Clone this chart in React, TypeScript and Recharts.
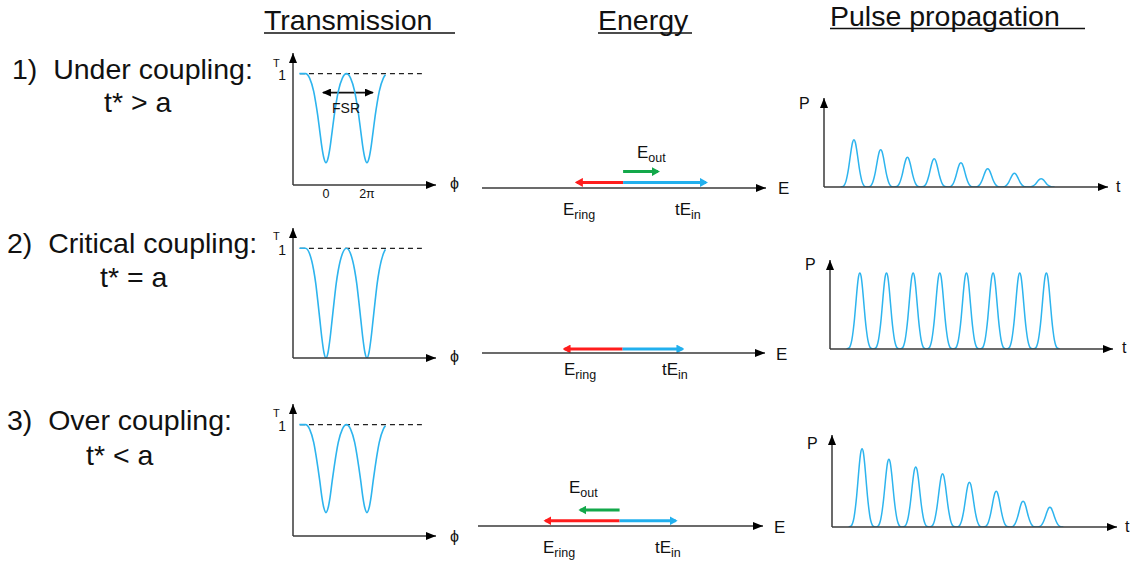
import React from 'react';
import { LineChart, Line, XAxis, YAxis, ReferenceLine } from 'recharts';

const FONT = '"Liberation Sans", Arial, Helvetica, sans-serif';
const CURVE = '#2db4ee';
const AXIS = '#3a3a3a';
const RED = '#ff1d1d';
const BLUE = '#22b0ee';
const GREEN = '#13a84a';

// ---------- Transmission (phase in units of pi, T normalised) ----------
const PHASE = [-1.3, -1.0, -0.8, -0.6, -0.5, -0.4, -0.3, -0.2, -0.1, 0, 0.1, 0.2, 0.3, 0.4, 0.5, 0.6, 0.8, 1.0, 1.2, 1.4, 1.5, 1.6, 1.7, 1.8, 1.9, 2.0, 2.1, 2.2, 2.3, 2.4, 2.5, 2.6, 2.8, 2.9];
const T_UNDER = [1, 1, 0.96, 0.84, 0.74, 0.62, 0.48, 0.34, 0.24, 0.2, 0.24, 0.34, 0.48, 0.62, 0.74, 0.84, 0.96, 1, 0.96, 0.84, 0.74, 0.62, 0.48, 0.34, 0.24, 0.2, 0.24, 0.34, 0.48, 0.62, 0.74, 0.84, 0.96, 0.99];
const T_CRITICAL = [1, 1, 0.95, 0.8, 0.68, 0.52, 0.35, 0.18, 0.05, 0, 0.05, 0.18, 0.35, 0.52, 0.68, 0.8, 0.95, 1, 0.95, 0.8, 0.68, 0.52, 0.35, 0.18, 0.05, 0, 0.05, 0.18, 0.35, 0.52, 0.68, 0.8, 0.95, 0.99];
const T_OVER = [1, 1, 0.96, 0.84, 0.74, 0.62, 0.49, 0.35, 0.25, 0.21, 0.25, 0.35, 0.49, 0.62, 0.74, 0.84, 0.96, 1, 0.96, 0.84, 0.74, 0.62, 0.49, 0.35, 0.25, 0.21, 0.25, 0.35, 0.49, 0.62, 0.74, 0.84, 0.96, 0.99];
const PHASE_TICKS = [0, 2];
const PHASE_TICK_LABELS = ['0', '2π'];
const T_TICKS = [1];
const DASH_SPAN = [-1.27, 4.68];
const FSR_SPAN = [-0.15, 2.29];
const FSR_LEVEL = 0.83;
const PHASE_DOMAIN = [-1.61, 5.37];
const T_DOMAIN = [0, 1.185];

// ---------- Energy (arbitrary field units) ----------
const E_RING = [-0.77, -0.97, -1.23];
const T_E_IN = [1.38, 1.0, 0.93];
const E_OUT: (number | null)[] = [0.58, null, -0.65];
const E_DOMAIN = [-2.35, 2.38];

// ---------- Pulse propagation ----------
const PULSE_CENTERS = [1, 2, 3, 4, 5, 6, 7, 8];
const PULSE_OFFSETS = [-0.5, -0.4, -0.35, -0.3, -0.25, -0.2, -0.15, -0.1, -0.05, 0, 0.05, 0.1, 0.15, 0.2, 0.25, 0.3, 0.35, 0.4];
const PULSE_PROFILE = [0, 0.015, 0.05, 0.12, 0.24, 0.4, 0.6, 0.8, 0.95, 1, 0.95, 0.8, 0.6, 0.4, 0.24, 0.12, 0.05, 0.015];
const PEAKS_UNDER = [0.62, 0.49, 0.39, 0.37, 0.32, 0.24, 0.18, 0.11];
const PEAKS_CRITICAL = [1, 1, 1, 1, 1, 1, 1, 1];
const PEAKS_OVER = [1.03, 0.89, 0.79, 0.7, 0.59, 0.47, 0.34, 0.26];
const T_TIME_DOMAIN = [-0.12, 10.5];

type Box = { left: number; top: number; width: number; height: number };
type Plot = { x0: number; y0: number; x1: number; y1: number };

// axes reserve 1px (Recharts skips axes of zero size)
function marginFor(box: Box, p: Plot, hasY = true) {
  return {
    left: p.x0 - box.left - (hasY ? 1 : 0),
    top: p.y0 - box.top,
    right: box.left + box.width - p.x1,
    bottom: box.top + box.height - p.y1 - 1,
  };
}

function buildTrans(values: number[]) {
  return PHASE.map((x, i) => ({ x, y: values[i] }));
}

function buildPulses(peaks: number[]) {
  const out: { t: number; p: number }[] = [];
  PULSE_CENTERS.forEach((c, k) => {
    PULSE_OFFSETS.forEach((o, j) => {
      out.push({ t: +(c + o).toFixed(3), p: peaks[k] * PULSE_PROFILE[j] });
    });
  });
  out.push({ t: PULSE_CENTERS[PULSE_CENTERS.length - 1] + 0.5, p: 0 });
  return out;
}

const axisLineX = { stroke: AXIS, strokeWidth: 1.5, markerEnd: 'url(#ah-axis)' };
const axisLineY = { stroke: AXIS, strokeWidth: 1.5, markerStart: 'url(#ah-axis)' };

function PhaseTick(props: any) {
  const { x, y, payload } = props;
  const i = PHASE_TICKS.indexOf(payload.value);
  return (
    <text x={x} y={y} dy={9} textAnchor="middle" fontSize={12.5} fill="#111" fontFamily={FONT}>
      {i >= 0 ? PHASE_TICK_LABELS[i] : ''}
    </text>
  );
}

function TTick(props: any) {
  const { x, y, payload } = props;
  return (
    <text x={x + 1} y={y} dy={6.5} textAnchor="end" fontSize={14} fill="#111" fontFamily={FONT}>
      {String(payload.value)}
    </text>
  );
}

function TransPanel({ box, plot, values, showTicks, showFSR }: { box: Box; plot: Plot; values: number[]; showTicks?: boolean; showFSR?: boolean }) {
  return (
    <div style={{ position: 'absolute', left: box.left, top: box.top, width: box.width, height: box.height }}>
      <LineChart width={box.width} height={box.height} data={buildTrans(values)} margin={marginFor(box, plot)}>
        <XAxis
          type="number"
          dataKey="x"
          domain={PHASE_DOMAIN}
          allowDataOverflow
          height={1}
          ticks={showTicks ? PHASE_TICKS : []}
          interval={0}
          tick={showTicks ? <PhaseTick /> : false}
          tickLine={false}
          tickSize={4}
          tickMargin={0}
          axisLine={axisLineX}
        />
        <YAxis
          type="number"
          domain={T_DOMAIN}
          allowDataOverflow
          width={1}
          ticks={T_TICKS}
          interval={0}
          tick={<TTick />}
          tickLine={false}
          axisLine={axisLineY}
        />
        <ReferenceLine
          segment={[{ x: DASH_SPAN[0], y: 1 }, { x: DASH_SPAN[1], y: 1 }]}
          stroke="#222"
          strokeWidth={1.2}
          strokeDasharray="5 4"
          ifOverflow="visible"
        />
        {showFSR && (
          <ReferenceLine
            segment={[{ x: FSR_SPAN[0], y: FSR_LEVEL }, { x: FSR_SPAN[1], y: FSR_LEVEL }]}
            stroke="#111"
            strokeWidth={1.8}
            markerStart="url(#ah-fsr)"
            markerEnd="url(#ah-fsr)"
            ifOverflow="visible"
          />
        )}
        <Line type="monotone" dataKey="y" stroke={CURVE} strokeWidth={1.6} dot={false} activeDot={false} isAnimationActive={false} />
      </LineChart>
    </div>
  );
}

function EnergyPanel({ box, plot, row, arrowY, outY }: { box: Box; plot: Plot; row: number; arrowY: number; outY: number }) {
  const ring = [{ x: 0, y: arrowY }, { x: E_RING[row], y: arrowY }];
  const tin = [{ x: 0, y: arrowY }, { x: T_E_IN[row], y: arrowY }];
  const eo = E_OUT[row];
  const outData = eo === null ? null : [{ x: 0, y: outY }, { x: eo, y: outY }];
  return (
    <div style={{ position: 'absolute', left: box.left, top: box.top, width: box.width, height: box.height }}>
      <LineChart width={box.width} height={box.height} margin={marginFor(box, plot, false)}>
        <XAxis type="number" dataKey="x" domain={E_DOMAIN} allowDataOverflow height={1} tick={false} tickLine={false} axisLine={axisLineX} />
        <YAxis type="number" dataKey="y" domain={[0, 1]} allowDataOverflow hide />
        <Line data={ring} type="linear" dataKey="y" stroke={RED} strokeWidth={3} dot={false} activeDot={false} isAnimationActive={false} markerEnd="url(#ah-red)" />
        <Line data={tin} type="linear" dataKey="y" stroke={BLUE} strokeWidth={3} dot={false} activeDot={false} isAnimationActive={false} markerEnd="url(#ah-blue)" />
        {outData && (
          <Line data={outData} type="linear" dataKey="y" stroke={GREEN} strokeWidth={3} dot={false} activeDot={false} isAnimationActive={false} markerEnd="url(#ah-green)" />
        )}
      </LineChart>
    </div>
  );
}

function PulsePanel({ box, plot, peaks, pDomain }: { box: Box; plot: Plot; peaks: number[]; pDomain: number[] }) {
  return (
    <div style={{ position: 'absolute', left: box.left, top: box.top, width: box.width, height: box.height }}>
      <LineChart width={box.width} height={box.height} data={buildPulses(peaks)} margin={marginFor(box, plot)}>
        <XAxis type="number" dataKey="t" domain={T_TIME_DOMAIN} allowDataOverflow height={1} tick={false} tickLine={false} axisLine={axisLineX} />
        <YAxis type="number" domain={pDomain} allowDataOverflow width={1} tick={false} tickLine={false} axisLine={axisLineY} />
        <Line type="monotone" dataKey="p" stroke={CURVE} strokeWidth={1.5} dot={false} activeDot={false} isAnimationActive={false} />
      </LineChart>
    </div>
  );
}

function Sub({ x, y, main, sub, pre }: { x: number; y: number; main: string; sub: string; pre?: string }) {
  return (
    <text x={x} y={y} fontSize={17} fill="#111" fontFamily={FONT}>
      {pre}
      {main}
      <tspan fontSize={12.5} dy={4}>{sub}</tspan>
    </text>
  );
}

export default function App() {
  const big = { fontSize: 28.5, fill: '#111', fontFamily: FONT, style: { whiteSpace: 'pre' as const } };
  const small = { fontSize: 16, fill: '#111', fontFamily: FONT };
  return (
    <div style={{ position: 'absolute', left: 0, top: 0, width: 1140, height: 565, background: '#fff', overflow: 'hidden' }}>
      <svg width={0} height={0} style={{ position: 'absolute' }}>
        <defs>
          <marker id="ah-axis" viewBox="0 0 10 8" refX={10} refY={4} markerWidth={10} markerHeight={8} markerUnits="userSpaceOnUse" orient="auto-start-reverse">
            <path d="M0,0 L10,4 L0,8 z" fill="#000" />
          </marker>
          <marker id="ah-fsr" viewBox="0 0 9 8" refX={8} refY={4} markerWidth={9} markerHeight={8} markerUnits="userSpaceOnUse" orient="auto-start-reverse">
            <path d="M0,0 L9,4 L0,8 z" fill="#000" />
          </marker>
          <marker id="ah-red" viewBox="0 0 8 9" refX={6} refY={4.5} markerWidth={8} markerHeight={9} markerUnits="userSpaceOnUse" orient="auto">
            <path d="M0,0 L8,4.5 L0,9 z" fill={RED} />
          </marker>
          <marker id="ah-blue" viewBox="0 0 8 9" refX={6} refY={4.5} markerWidth={8} markerHeight={9} markerUnits="userSpaceOnUse" orient="auto">
            <path d="M0,0 L8,4.5 L0,9 z" fill={BLUE} />
          </marker>
          <marker id="ah-green" viewBox="0 0 8 9" refX={6} refY={4.5} markerWidth={8} markerHeight={9} markerUnits="userSpaceOnUse" orient="auto">
            <path d="M0,0 L8,4.5 L0,9 z" fill={GREEN} />
          </marker>
        </defs>
      </svg>

      <TransPanel box={{ left: 255, top: 40, width: 215, height: 175 }} plot={{ x0: 293, y0: 53, x1: 436, y1: 185 }} values={T_UNDER} showTicks showFSR />
      <TransPanel box={{ left: 255, top: 215, width: 215, height: 160 }} plot={{ x0: 293, y0: 228, x1: 436, y1: 358 }} values={T_CRITICAL} />
      <TransPanel box={{ left: 255, top: 390, width: 215, height: 170 }} plot={{ x0: 293, y0: 404, x1: 436, y1: 536 }} values={T_OVER} />

      <EnergyPanel box={{ left: 470, top: 140, width: 300, height: 60 }} plot={{ x0: 482, y0: 148, x1: 766, y1: 188 }} row={0} arrowY={0.14} outY={0.41} />
      <EnergyPanel box={{ left: 470, top: 305, width: 300, height: 60 }} plot={{ x0: 482, y0: 313, x1: 765, y1: 353 }} row={1} arrowY={0.1} outY={0.4} />
      <EnergyPanel box={{ left: 466, top: 478, width: 300, height: 60 }} plot={{ x0: 478, y0: 486, x1: 763, y1: 526 }} row={2} arrowY={0.13} outY={0.4} />

      <PulsePanel box={{ left: 815, top: 90, width: 305, height: 105 }} plot={{ x0: 824, y0: 98, x1: 1108, y1: 187 }} peaks={PEAKS_UNDER} pDomain={[0, 1.17]} />
      <PulsePanel box={{ left: 815, top: 252, width: 305, height: 105 }} plot={{ x0: 830, y0: 260, x1: 1113, y1: 349 }} peaks={PEAKS_CRITICAL} pDomain={[0, 1.17]} />
      <PulsePanel box={{ left: 815, top: 428, width: 310, height: 108 }} plot={{ x0: 832, y0: 435, x1: 1117, y1: 527 }} peaks={PEAKS_OVER} pDomain={[0, 1.21]} />

      <svg width={1140} height={565} style={{ position: 'absolute', left: 0, top: 0, pointerEvents: 'none' }}>
        {/* headers */}
        <text x={264} y={30} {...big}>Transmission</text>
        <line x1={264} y1={33} x2={455} y2={33} stroke="#111" strokeWidth={1.6} />
        <text x={598} y={30} {...big}>Energy</text>
        <line x1={598} y1={33} x2={692} y2={33} stroke="#111" strokeWidth={1.6} />
        <text x={830} y={26} {...big}>Pulse propagation</text>
        <line x1={830} y1={28.5} x2={1085} y2={28.5} stroke="#111" strokeWidth={1.6} />

        {/* row labels */}
        <text x={12} y={79} {...big}>{'1)  Under coupling:'}</text>
        <text x={104} y={112} {...big}>{'t* > a'}</text>
        <text x={7} y={253} {...big}>{'2)  Critical coupling:'}</text>
        <text x={100} y={287} {...big}>{'t* = a'}</text>
        <text x={7} y={430} {...big}>{'3)  Over coupling:'}</text>
        <text x={86} y={465} {...big}>{'t* < a'}</text>

        {/* transmission axis labels */}
        <text x={273} y={67} fontSize={11} fill="#111" fontFamily={FONT}>T</text>
        <text x={273} y={240} fontSize={11} fill="#111" fontFamily={FONT}>T</text>
        <text x={273} y={417} fontSize={11} fill="#111" fontFamily={FONT}>T</text>
        <text x={450} y={189} fontSize={16} fill="#111" fontFamily={FONT}>ϕ</text>
        <text x={450} y={362} fontSize={16} fill="#111" fontFamily={FONT}>ϕ</text>
        <text x={450} y={542} fontSize={16} fill="#111" fontFamily={FONT}>ϕ</text>
        <text x={332} y={113} fontSize={14} fill="#111" fontFamily={FONT}>FSR</text>

        {/* energy labels */}
        <text x={778} y={194} fontSize={17} fill="#111" fontFamily={FONT}>E</text>
        <text x={776} y={360} fontSize={17} fill="#111" fontFamily={FONT}>E</text>
        <text x={774} y={533} fontSize={17} fill="#111" fontFamily={FONT}>E</text>
        <Sub x={637} y={158} main="E" sub="out" />
        <Sub x={563} y={215} main="E" sub="ring" />
        <Sub x={675} y={215} pre="t" main="E" sub="in" />
        <Sub x={564} y={375} main="E" sub="ring" />
        <Sub x={662} y={375} pre="t" main="E" sub="in" />
        <Sub x={569} y={493} main="E" sub="out" />
        <Sub x={543} y={553} main="E" sub="ring" />
        <Sub x={655} y={553} pre="t" main="E" sub="in" />

        {/* pulse labels */}
        <text x={799} y={109} {...small}>P</text>
        <text x={1116} y={192} {...small}>t</text>
        <text x={805} y={270} {...small}>P</text>
        <text x={1122} y={353} {...small}>t</text>
        <text x={807} y={449} {...small}>P</text>
        <text x={1125} y={532} {...small}>t</text>
      </svg>
    </div>
  );
}
